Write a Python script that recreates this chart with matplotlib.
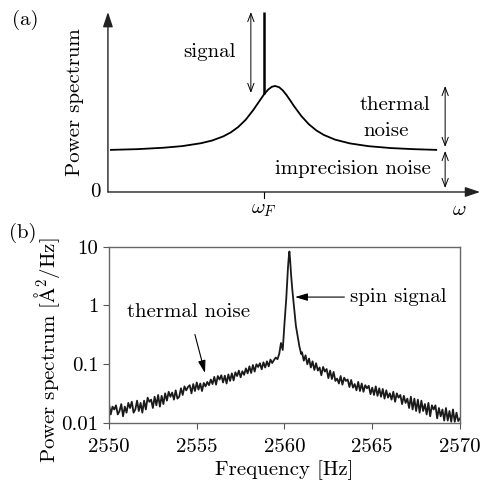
import numpy as np
import matplotlib
matplotlib.use("Agg")
import matplotlib.pyplot as plt
from matplotlib.ticker import FixedLocator, FixedFormatter, NullLocator

plt.rcParams['font.family'] = 'serif'
plt.rcParams['font.serif'] = ['cmr10', 'DejaVu Serif']
plt.rcParams['mathtext.fontset'] = 'cm'
plt.rcParams['axes.formatter.use_mathtext'] = True
plt.rcParams['font.size'] = 15

# ---- panel (a): schematic spectrum (axis units 0..1)
sketch_x = [0.008, 0.08, 0.15, 0.20, 0.25, 0.28, 0.31, 0.33, 0.35, 0.37, 0.39, 0.40,
            0.41, 0.42, 0.43, 0.44, 0.449, 0.46, 0.47, 0.48, 0.49, 0.50, 0.52, 0.54,
            0.56, 0.58, 0.61, 0.65, 0.70, 0.76, 0.82, 0.882]
sketch_y = [0.234, 0.238, 0.246, 0.255, 0.271, 0.286, 0.309, 0.331, 0.361, 0.401, 0.454, 0.484,
            0.514, 0.544, 0.568, 0.584, 0.589, 0.582, 0.564, 0.538, 0.508, 0.477, 0.421, 0.376,
            0.342, 0.317, 0.291, 0.270, 0.2545, 0.244, 0.238, 0.234]
omega_f = 0.419
spike_bottom = 0.544

# ---- panel (b): measured spectrum
freq_left = np.round(np.arange(2550.0, 2559.95, 0.1), 2)
power_left = [
    0.021, 0.014, 0.019, 0.017, 0.020, 0.014, 0.016, 0.021, 0.013, 0.019,
    0.015, 0.022, 0.018, 0.023, 0.015, 0.017, 0.024, 0.016, 0.022, 0.015,
    0.024, 0.017, 0.027, 0.023, 0.025, 0.018, 0.028, 0.020, 0.030, 0.019,
    0.029, 0.021, 0.032, 0.024, 0.034, 0.028, 0.033, 0.025, 0.036, 0.026,
    0.028, 0.039, 0.030, 0.042, 0.036, 0.041, 0.044, 0.032, 0.046, 0.035,
    0.049, 0.037, 0.047, 0.035, 0.048, 0.042, 0.050, 0.044, 0.055, 0.046,
    0.061, 0.045, 0.063, 0.055, 0.065, 0.049, 0.064, 0.047, 0.067, 0.052,
    0.070, 0.053, 0.073, 0.063, 0.078, 0.060, 0.076, 0.066, 0.085, 0.070,
    0.092, 0.071, 0.097, 0.075, 0.100, 0.090, 0.104, 0.082, 0.108, 0.088,
    0.112, 0.092, 0.120, 0.105, 0.118, 0.130, 0.122, 0.150, 0.230, 0.175,
]
freq_peak = [2560.0, 2560.1, 2560.15, 2560.2, 2560.25, 2560.28, 2560.32, 2560.38,
             2560.45, 2560.55, 2560.65, 2560.75, 2560.85, 2560.95]
power_peak = [0.5, 1.3, 2.5, 4.5, 7.0, 8.3, 6.0, 3.2, 1.8, 0.9, 0.45, 0.3, 0.2, 0.15]
freq_right = np.round(np.arange(2561.0, 2570.05, 0.1), 2)
power_right = [
    0.160, 0.115, 0.142, 0.100, 0.125, 0.088, 0.112, 0.080, 0.104, 0.078,
    0.088, 0.065, 0.090, 0.075, 0.083, 0.058, 0.078, 0.056, 0.074, 0.052,
    0.057, 0.047, 0.063, 0.045, 0.059, 0.052, 0.055, 0.041, 0.054, 0.040,
    0.046, 0.036, 0.050, 0.035, 0.047, 0.034, 0.044, 0.039, 0.043, 0.031,
    0.040, 0.030, 0.042, 0.029, 0.039, 0.028, 0.038, 0.026, 0.036, 0.027,
    0.032, 0.025, 0.034, 0.023, 0.032, 0.027, 0.030, 0.021, 0.029, 0.022,
    0.026, 0.018, 0.028, 0.017, 0.026, 0.016, 0.025, 0.015, 0.024, 0.016,
    0.021, 0.014, 0.022, 0.013, 0.020, 0.017, 0.020, 0.012, 0.018, 0.013,
    0.017, 0.011, 0.018, 0.011, 0.016, 0.0105, 0.017, 0.0105, 0.015, 0.0108,
    0.012,
]
freq = np.concatenate([freq_left, freq_peak, freq_right])
power = np.concatenate([power_left, power_peak, power_right])

yticks = [0.01, 0.1, 1, 10]
ytick_labels = ['0.01', '0.1', '1', '10']
xticks = [2550, 2555, 2560, 2565, 2570]

fig = plt.figure(figsize=(4.84, 4.83), dpi=100)

# ---------------- (a)
ax1 = fig.add_axes([0.223, 0.6025, 0.769, 0.3727])
ax1.set_xlim(0, 1)
ax1.set_ylim(0, 1)
ax1.set_axis_off()

axis_arrow = dict(arrowstyle='-|>,head_length=0.6,head_width=0.2', lw=1.0, color='#222222',
                  shrinkA=0, shrinkB=0)
ax1.annotate('', xy=(0, 1.0), xytext=(0, 0), annotation_clip=False, arrowprops=axis_arrow)
ax1.annotate('', xy=(1.0, 0), xytext=(0, 0), annotation_clip=False, arrowprops=axis_arrow)

ax1.plot(sketch_x, sketch_y, color='black', lw=1.3)
ax1.plot([omega_f, omega_f], [spike_bottom, 1.0], color='black', lw=1.8, solid_capstyle='butt')
ax1.plot([omega_f, omega_f], [0, -0.035], color='black', lw=0.8, clip_on=False)

dbl = dict(arrowstyle='<->,head_length=0.4,head_width=0.15', lw=0.7, color='black', shrinkA=0, shrinkB=0)
ax1.annotate('', xy=(0.384, 1.0), xytext=(0.384, 0.55), arrowprops=dbl, annotation_clip=False)
ax1.annotate('', xy=(0.906, 0.589), xytext=(0.906, 0.25), arrowprops=dbl, annotation_clip=False)
ax1.annotate('', xy=(0.906, 0.228), xytext=(0.906, 0.022), arrowprops=dbl, annotation_clip=False)

ax1.text(0.274, 0.778, 'signal', ha='center', va='center')
ax1.text(0.675, 0.483, 'thermal', ha='left', va='center')
ax1.text(0.685, 0.339, 'noise', ha='left', va='center')
ax1.text(0.657, 0.128, 'imprecision noise', ha='center', va='center')
ax1.text(-0.035, 0.0, '0', ha='center', va='center')
ax1.text(omega_f, -0.1, r'$\omega_F$', ha='center', va='center')
ax1.text(0.944, -0.1, r'$\omega$', ha='center', va='center')
ax1.text(-0.089, 0.5, 'Power spectrum', rotation=90, ha='center', va='center')
fig.text(0.052, 0.959, '(a)', ha='center', va='center')

# ---------------- (b)
ax2 = fig.add_axes([0.2252, 0.1242, 0.7252, 0.365])
ax2.plot(freq, power, color='#1a1a1a', lw=1.3)
ax2.set_yscale('log')
ax2.set_xlim(2550, 2570)
ax2.set_ylim(0.01, 10)
ax2.yaxis.set_major_locator(FixedLocator(yticks))
ax2.yaxis.set_major_formatter(FixedFormatter(ytick_labels))
ax2.yaxis.set_minor_locator(NullLocator())
ax2.set_xticks(xticks)
ax2.set_xticklabels([str(t) for t in xticks])
ax2.tick_params(direction='out', length=4, width=0.8, color='#555555')
ax2.tick_params(axis='x', pad=7)
for sp in ax2.spines.values():
    sp.set_color('#666666')
    sp.set_linewidth(1.0)
ax2.set_xlabel('Frequency [Hz]', labelpad=3)
ax2.set_ylabel(r'Power spectrum [$\mathrm{\AA}^2$/Hz]')
ax2.yaxis.set_label_coords(-0.135, 0.41)

ax2.annotate('thermal noise', xy=(2555.47, 0.071), xytext=(2554.56, 0.773),
             ha='center', va='center',
             arrowprops=dict(arrowstyle='-|>,head_length=0.5,head_width=0.15', lw=0.8, color='black',
                             shrinkA=8, shrinkB=0))
ax2.annotate('spin signal', xy=(2560.6, 1.39), xytext=(2563.73, 1.39),
             ha='left', va='center',
             arrowprops=dict(arrowstyle='-|>,head_length=0.5,head_width=0.15', lw=0.8, color='black',
                             shrinkA=2, shrinkB=0))
fig.text(0.048, 0.518, '(b)', ha='center', va='center')

fig.savefig('out.png', dpi=100)
